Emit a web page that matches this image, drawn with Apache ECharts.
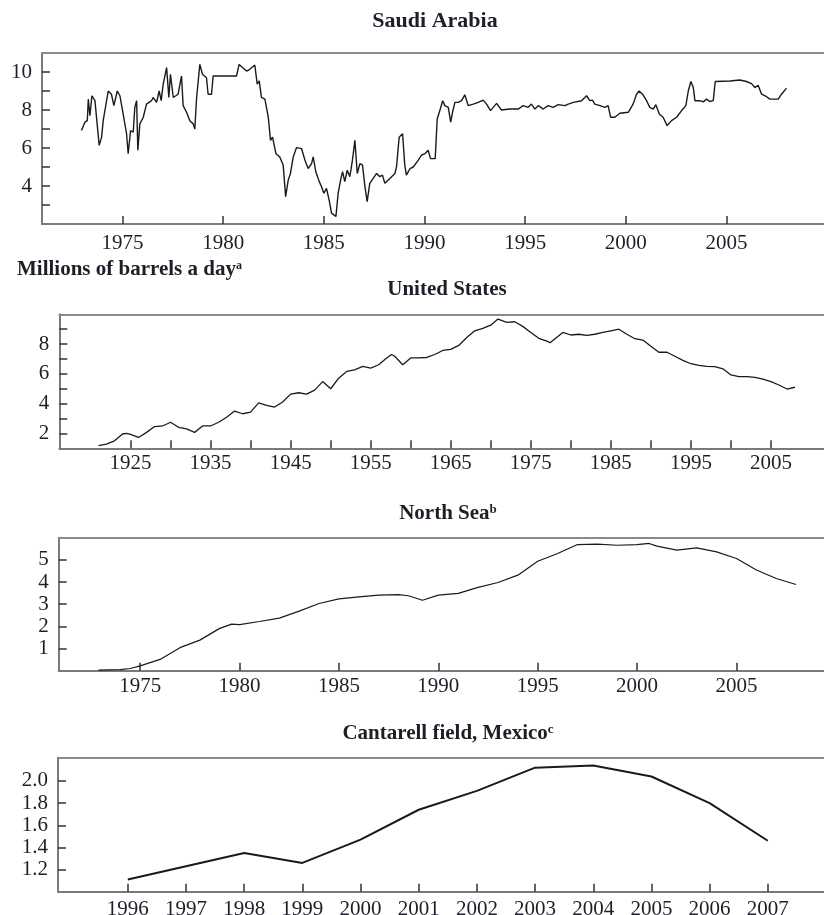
<!DOCTYPE html>
<html>
<head>
<meta charset="utf-8">
<script src="https://cdn.jsdelivr.net/npm/echarts@6/dist/echarts.min.js"></script>
<style>
html,body{margin:0;padding:0;background:#fff;}
#chart{width:824px;height:915px;}
</style>
</head>
<body>
<div id="chart"></div>
<script>
// ---------------- DATA ----------------
const saudiYears = [1972.96,1973.13,1973.25,1973.3,1973.38,1973.48,1973.63,1973.7,1973.84,1973.96,1974.04,1974.29,1974.45,1974.57,1974.74,1974.87,1975.03,1975.2,1975.28,1975.4,1975.53,1975.61,1975.7,1975.76,1975.86,1976.03,1976.19,1976.44,1976.52,1976.69,1976.82,1976.92,1977.02,1977.19,1977.3,1977.38,1977.52,1977.76,1977.93,1978.01,1978.18,1978.34,1978.51,1978.59,1978.68,1978.84,1978.97,1979.17,1979.25,1979.42,1979.5,1980.66,1980.79,1981.16,1981.32,1981.57,1981.69,1981.79,1981.9,1982.07,1982.24,1982.35,1982.45,1982.62,1982.81,1982.98,1983.1,1983.23,1983.34,1983.48,1983.64,1983.89,1984.06,1984.22,1984.39,1984.47,1984.6,1984.77,1984.88,1985.0,1985.13,1985.26,1985.38,1985.46,1985.6,1985.71,1985.83,1985.93,1986.04,1986.16,1986.29,1986.42,1986.54,1986.66,1986.79,1986.92,1987.04,1987.15,1987.28,1987.45,1987.62,1987.78,1987.91,1988.03,1988.28,1988.53,1988.61,1988.74,1988.91,1989.02,1989.1,1989.28,1989.44,1989.69,1989.85,1990.02,1990.18,1990.3,1990.43,1990.53,1990.63,1990.76,1990.9,1991.01,1991.18,1991.3,1991.39,1991.51,1991.67,1991.84,1992.0,1992.17,1992.42,1992.67,1992.91,1993.08,1993.28,1993.41,1993.58,1993.82,1994.24,1994.65,1994.9,1995.15,1995.31,1995.48,1995.65,1995.9,1996.14,1996.39,1996.64,1996.97,1997.14,1997.39,1997.8,1998.05,1998.21,1998.34,1998.46,1998.71,1998.96,1999.12,1999.24,1999.45,1999.7,2000.12,2000.36,2000.53,2000.66,2000.83,2001.03,2001.19,2001.36,2001.49,2001.66,2001.85,2002.05,2002.27,2002.52,2002.77,2002.98,2003.1,2003.23,2003.35,2003.43,2003.68,2003.84,2004.01,2004.17,2004.34,2004.44,2005.17,2005.66,2005.99,2006.24,2006.41,2006.57,2006.74,2006.99,2007.15,2007.57,2007.73,2007.98];
const saudiValues = [6.92,7.36,7.44,8.57,7.7,8.75,8.49,8.57,6.14,6.57,7.44,9.0,8.83,8.23,9.0,8.75,7.79,6.75,5.7,6.92,6.83,8.14,8.49,5.88,7.27,7.62,8.31,8.49,8.66,8.4,9.0,8.49,9.36,10.23,8.66,9.88,8.66,8.83,9.79,8.23,7.88,7.44,7.27,7.0,8.66,10.4,9.88,9.7,8.83,8.83,9.79,9.79,10.4,10.05,10.14,10.37,9.36,9.53,8.66,8.57,7.62,6.4,6.57,5.7,5.53,5.1,3.44,4.31,4.66,5.53,6.02,5.97,5.36,4.92,5.18,5.53,4.75,4.23,3.97,3.62,3.88,3.27,2.57,2.66,2.4,3.62,4.31,4.75,4.23,4.83,4.49,5.36,6.4,4.66,5.18,5.1,3.97,3.18,4.14,4.4,4.66,4.49,4.57,4.14,4.4,4.66,5.01,6.57,6.75,5.1,4.57,4.92,5.0,5.36,5.62,5.7,5.88,5.44,5.44,5.44,7.53,7.97,8.49,8.23,8.14,7.36,7.88,8.4,8.4,8.49,8.8,8.23,8.31,8.4,8.52,8.31,7.97,8.14,8.35,8.0,8.05,8.05,8.23,8.14,8.31,8.05,8.23,8.05,8.23,8.14,8.28,8.23,8.31,8.4,8.49,8.75,8.49,8.52,8.31,8.23,8.14,8.23,7.62,7.62,7.83,7.88,8.31,8.83,9.0,8.83,8.49,8.14,8.05,8.28,7.79,7.62,7.18,7.44,7.62,7.97,8.23,9.0,9.5,9.18,8.49,8.49,8.43,8.57,8.45,8.49,9.5,9.53,9.58,9.5,9.39,9.18,9.3,8.83,8.7,8.57,8.57,8.83,9.15];

const usYears = [1921,1922,1923,1924,1924.5,1925,1926,1927,1928,1929,1930,1931,1932,1933,1934,1935,1936,1937,1938,1939,1940,1941,1942,1943,1944,1945,1946,1947,1948,1949,1950,1951,1952,1953,1954,1955,1956,1957,1957.6,1958,1959,1960,1961,1962,1963,1964,1965,1966,1967,1968,1969,1970,1970.9,1972,1973,1974,1975,1976,1977,1977.4,1979,1980,1981,1982,1983,1984,1985,1986,1987,1988,1989,1990,1991,1992,1993,1994,1995,1996,1997,1998,1999,2000,2001,2002,2003,2004,2005,2006,2007,2008];
const usValues = [1.18,1.28,1.5,1.96,2.0,1.93,1.73,2.07,2.46,2.5,2.75,2.41,2.3,2.07,2.5,2.5,2.75,3.09,3.5,3.32,3.43,4.05,3.89,3.77,4.11,4.64,4.73,4.64,4.91,5.48,5.0,5.71,6.16,6.27,6.5,6.39,6.61,7.07,7.3,7.18,6.61,7.07,7.07,7.1,7.3,7.57,7.64,7.91,8.44,8.89,9.05,9.27,9.68,9.46,9.5,9.19,8.78,8.39,8.2,8.09,8.78,8.61,8.66,8.59,8.66,8.78,8.89,9.0,8.66,8.36,8.27,7.86,7.45,7.45,7.18,6.91,6.68,6.57,6.5,6.48,6.34,5.93,5.82,5.82,5.77,5.64,5.48,5.25,4.98,5.1];

const northSeaYears = [1972.9,1974,1974.5,1975,1976,1977,1978,1979,1979.6,1980,1981,1982,1983,1984,1985,1986,1987,1988,1988.5,1989.2,1990,1991,1992,1993,1994,1995,1996,1997,1998,1999,2000,2000.6,2001,2002,2003,2004,2005,2006,2007,2008];
const northSeaValues = [0.03,0.05,0.1,0.22,0.51,1.04,1.38,1.91,2.1,2.08,2.22,2.37,2.69,3.03,3.24,3.33,3.41,3.43,3.38,3.18,3.41,3.49,3.76,3.98,4.31,4.94,5.29,5.69,5.71,5.66,5.69,5.74,5.62,5.44,5.54,5.36,5.06,4.54,4.16,3.89];

const cantarellYears = [1996,1997,1998,1999,2000,2001,2002,2003,2004,2005,2006,2007];
const cantarellValues = [1.11,1.23,1.35,1.26,1.47,1.74,1.91,2.12,2.14,2.04,1.80,1.46];

// tick labels
const saudiXTicks = [1975,1980,1985,1990,1995,2000,2005];
const saudiYTicks = [3,4,5,6,7,8,9,10];
const saudiYLabels = [4,6,8,10];
const usXTicks = [1925,1930,1935,1940,1945,1950,1955,1960,1965,1970,1975,1980,1985,1990,1995,2000,2005];
const usXLabels = [1925,1935,1945,1955,1965,1975,1985,1995,2005];
const usYTicks = [2,3,4,5,6,7,8,9];
const usYLabels = [2,4,6,8];
const nsXTicks = [1975,1980,1985,1990,1995,2000,2005];
const nsYTicks = [1,2,3,4,5];
const caXTicks = [1996,1997,1998,1999,2000,2001,2002,2003,2004,2005,2006,2007];
const caYTicks = [1.2,1.4,1.6,1.8,2.0];

// ---------------- STYLE / LAYOUT ----------------
const FONT = "'Liberation Serif', 'DejaVu Serif', 'Times New Roman', serif";
const TXT = '#1e1e28';
const AXIS_COLOR = '#7a7a7a';
const TOP_COLOR = '#8a8a8a';
const TICK_COLOR = '#333';
const CANVAS_W = 824;
const TICK_FONT = 21;

const panels = [
  {left:42,   top:53,    height:171, xmin:1971,   ppy:20.133, ymin:2, ymax:11,  xt:saudiXTicks, xl:saudiXTicks, yt:saudiYTicks, yl:saudiYLabels, dec:0, xMargin:9},
  {left:59.3, top:314.3, height:134, xmin:1916.1, ppy:8.005,  ymin:1, ymax:10,  xt:usXTicks, xl:usXLabels, yt:usYTicks, yl:usYLabels, dec:0, xMargin:5},
  {left:58.7, top:537.7, height:133, xmin:1970.9, ppy:19.877, ymin:0, ymax:6,   xt:nsXTicks, xl:nsXTicks, yt:nsYTicks, yl:nsYTicks, dec:0, xMargin:5},
  {left:58,   top:757.7, height:134, xmin:1994.8, ppy:58.18,  ymin:1.0, ymax:2.21, xt:caXTicks, xl:caXTicks, yt:caYTicks, yl:caYTicks, dec:1, xMargin:7}
];

const seriesData = [
  {years:saudiYears, values:saudiValues, width:1.4},
  {years:usYears, values:usValues, width:1.3},
  {years:northSeaYears, values:northSeaValues, width:1.2},
  {years:cantarellYears, values:cantarellValues, width:2}
];

const grid = [], xAxis = [], yAxis = [], series = [];
panels.forEach((p, i) => {
  const w = CANVAS_W - p.left;
  const xmax = p.xmin + w / p.ppy;
  grid.push({left:p.left, top:p.top, width:w, height:p.height, show:false, containLabel:false, outerBoundsMode:'none'});
  // bottom axis
  xAxis.push({
    type:'value', gridIndex:i, position:'bottom', min:p.xmin, max:xmax,
    splitLine:{show:false},
    axisLine:{show:true, onZero:false, lineStyle:{color:AXIS_COLOR, width:2}},
    axisTick:{show:true, inside:true, length:8, customValues:p.xt, lineStyle:{color:TICK_COLOR, width:1.5}},
    axisLabel:{show:true, customValues:p.xl, margin:p.xMargin, fontFamily:FONT, fontSize:TICK_FONT, color:TXT,
      formatter: v => String(Math.round(v))}
  });
  // top frame line
  xAxis.push({
    type:'value', gridIndex:i, position:'top', min:p.xmin, max:xmax,
    splitLine:{show:false},
    axisLine:{show:true, onZero:false, lineStyle:{color:TOP_COLOR, width:2}},
    axisTick:{show:false}, axisLabel:{show:false}
  });
  yAxis.push({
    type:'value', gridIndex:i, min:p.ymin, max:p.ymax,
    splitLine:{show:false},
    axisLine:{show:true, onZero:false, lineStyle:{color:AXIS_COLOR, width:2}},
    axisTick:{show:true, inside:true, length:8, customValues:p.yt, lineStyle:{color:TICK_COLOR, width:1.5}},
    axisLabel:{show:true, customValues:p.yl, margin:10, fontFamily:FONT, fontSize:TICK_FONT, color:TXT,
      formatter: v => p.dec ? Number(v).toFixed(p.dec) : String(Math.round(v))}
  });
  const s = seriesData[i];
  series.push({
    type:'line', xAxisIndex:i * 2, yAxisIndex:i, showSymbol:false, symbol:'none',
    data: s.years.map((y, k) => [y, s.values[k]]),
    lineStyle:{color:'#1a1a1a', width:s.width}, silent:true, clip:true
  });
});

function titleText(x, y, main, sup, size) {
  return {
    type:'text', x:x, y:y,
    style:{
      text: sup ? '{m|' + main + '}{s|' + sup + '}' : '{m|' + main + '}',
      align:'center', verticalAlign:'middle',
      rich:{
        m:{fontFamily:FONT, fontSize:size, fontWeight:'bold', fill:TXT, color:TXT},
        s:{fontFamily:FONT, fontSize:Math.round(size*0.6), fontWeight:'bold', fill:TXT, color:TXT, verticalAlign:'top'}
      }
    }
  };
}

const graphic = [
  titleText(435, 21, 'Saudi Arabia', null, 22),
  titleText(447, 290, 'United States', null, 21),
  titleText(448, 514, 'North Sea', 'b', 21),
  titleText(448, 734, 'Cantarell field, Mexico', 'c', 21),
  {
    type:'text', x:17, y:270,
    style:{
      text:'{m|Millions of barrels a day}{s|a}', align:'left', verticalAlign:'middle',
      rich:{
        m:{fontFamily:FONT, fontSize:21, fontWeight:'bold', fill:TXT, color:TXT},
        s:{fontFamily:FONT, fontSize:12, fontWeight:'bold', fill:TXT, color:TXT, verticalAlign:'top'}
      }
    }
  }
];

const chart = echarts.init(document.getElementById('chart'), null, {renderer:'canvas'});
chart.setOption({
  animation:false,
  backgroundColor:'#fff',
  grid, xAxis, yAxis, series, graphic
});
</script>
</body>
</html>
